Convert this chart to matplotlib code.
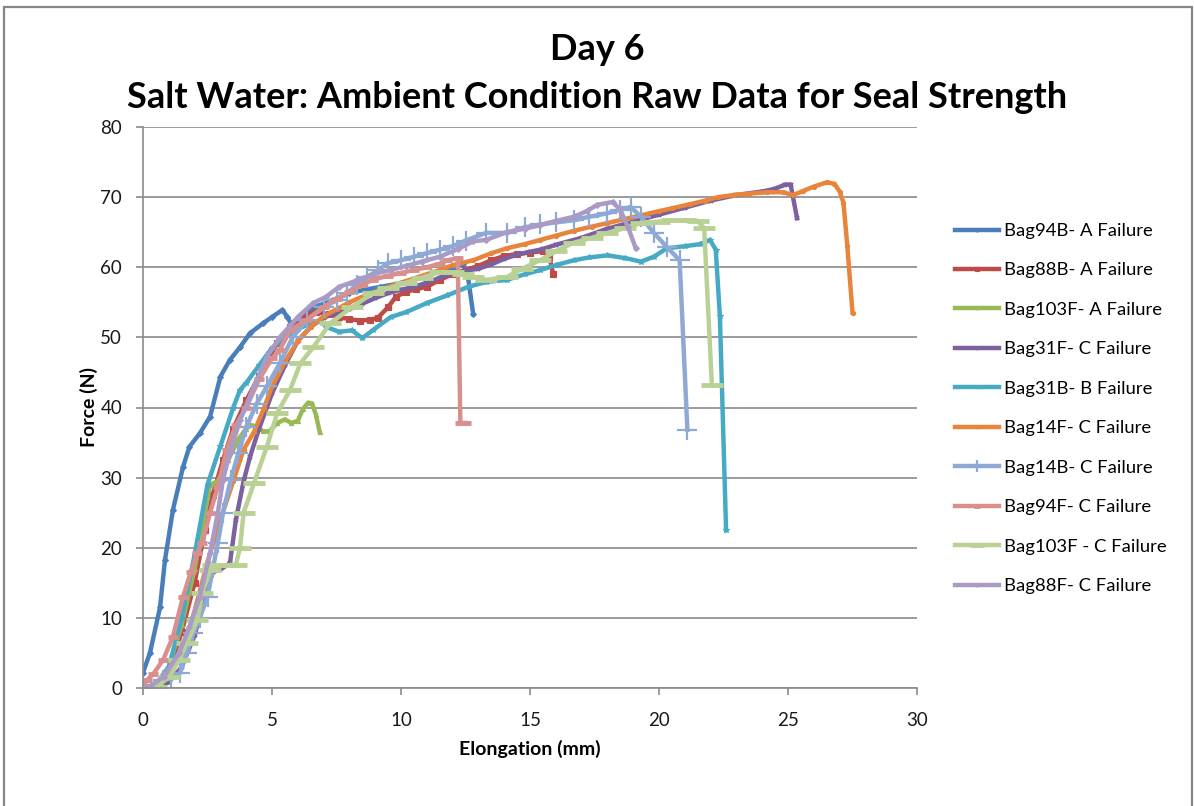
import matplotlib
matplotlib.use("Agg")
import matplotlib.pyplot as plt
from matplotlib.patches import Rectangle

plt.rcParams['font.family'] = ['Lato', 'DejaVu Sans']

# ---- series data: elongation (mm) and force (N) ----
bag94b_x = [0, 0.27, 0.66, 0.85, 1.16, 1.55, 1.8, 2.2, 2.6, 3.0, 3.37, 3.76, 4.15, 4.65, 5.0, 5.4,
            5.6, 5.8, 6.2, 6.8, 7.4, 8.0, 8.6, 9.2, 9.8, 10.4, 11.0, 11.5, 12.0, 12.4, 12.6, 12.8]
bag94b_y = [2.2, 5.0, 11.5, 18.2, 25.4, 31.5, 34.4, 36.3, 38.7, 44.4, 46.8, 48.6, 50.6, 52.0, 52.9, 53.9,
            52.9, 51.5, 53.3, 54.5, 55.4, 56.3, 56.8, 57.2, 57.6, 58.1, 58.8, 59.4, 59.9, 60.4, 58.5, 53.3]

bag88b_x = [0, 0.5, 1.0, 1.5, 2.0, 2.4, 2.7, 3.1, 3.5, 4.0, 4.5, 4.9, 5.2, 5.7, 6.2, 6.7, 7.2, 7.6,
            8.0, 8.4, 8.8, 9.1, 9.5, 9.8, 10.2, 10.6, 11.0, 11.5, 12.0, 12.5, 13.0, 13.5, 14.0, 14.5,
            15.0, 15.5, 15.75, 15.9]
bag88b_y = [0, 0.3, 2.5, 8.0, 15.0, 22.5, 27.5, 32.5, 37.0, 41.0, 44.5, 47.2, 49.2, 51.5, 53.2, 53.6,
            53.3, 52.9, 52.6, 52.4, 52.5, 52.8, 54.3, 55.8, 56.5, 56.9, 57.2, 58.2, 59.0, 59.6, 60.2,
            61.0, 61.6, 61.9, 62.1, 62.3, 61.5, 59.0]

bag103fa_x = [0, 0.5, 1.0, 1.5, 2.0, 2.4, 2.6, 2.9, 3.3, 3.7, 4.0, 4.2, 4.45, 4.65, 4.9, 5.2, 5.5,
              5.75, 6.0, 6.2, 6.4, 6.55, 6.7, 6.85]
bag103fa_y = [0, 0.5, 3.0, 9.0, 17.0, 25.0, 29.0, 29.5, 32.5, 35.5, 37.0, 37.5, 37.2, 36.6, 36.6,
              37.8, 38.3, 37.8, 38.1, 39.8, 40.7, 40.6, 39.0, 36.5]

bag31f_x = [0, 0.5, 1.0, 1.5, 2.0, 2.4, 2.7, 3.0, 3.37, 3.6, 3.9, 4.15, 4.5, 5.0, 5.5, 6.0, 6.5, 7.0,
            7.5, 8.0, 8.5, 9.0, 9.5, 10.0, 10.5, 11.0, 11.5, 12.0, 12.5, 13.0, 13.5, 14.0, 14.5, 15.0,
            15.5, 16.0, 17.0, 18.0, 19.0, 20.0, 21.0, 22.0, 23.0, 24.0, 24.5, 24.9, 25.1, 25.35]
bag31f_y = [0, 0.0, 0.8, 3.0, 7.5, 13.0, 16.5, 16.9, 17.8, 24.0, 29.5, 33.0, 37.0, 42.0, 46.0, 49.5,
            51.5, 52.8, 53.5, 54.0, 54.8, 55.6, 56.3, 56.8, 57.2, 57.8, 58.5, 59.2, 59.5, 59.8, 60.4,
            61.2, 61.8, 62.2, 62.6, 63.2, 64.2, 65.5, 66.5, 67.5, 68.5, 69.5, 70.3, 70.8, 71.2, 71.8,
            71.8, 67.0]

bag31b_x = [0, 0.5, 1.0, 1.5, 2.0, 2.5, 3.0, 3.5, 3.76, 4.0, 4.5, 5.0, 5.5, 6.0, 6.5, 6.86, 7.1, 7.6,
            8.1, 8.5, 8.9, 9.6, 10.2, 11.0, 11.8, 12.6, 13.3, 14.1, 14.8, 15.4, 16.0, 16.7, 17.3, 18.0,
            18.7, 19.3, 19.8, 20.3, 21.0, 21.6, 21.98, 22.2, 22.36, 22.6]
bag31b_y = [0, 0.5, 3.0, 10.0, 19.0, 29.0, 34.5, 40.0, 42.5, 43.5, 46.0, 48.5, 50.0, 51.2, 52.0,
            52.4, 51.5, 50.8, 51.0, 49.9, 51.0, 52.9, 53.6, 54.9, 56.0, 57.2, 57.9, 58.2, 59.0, 59.6,
            60.3, 61.0, 61.4, 61.7, 61.3, 60.8, 61.5, 62.7, 63.0, 63.3, 63.9, 62.5, 53.0, 22.5]

bag14f_x = [0, 0.5, 1.0, 1.5, 2.0, 2.5, 3.0, 3.5, 3.9, 4.3, 4.7, 5.0, 5.5, 6.0, 6.5, 7.0, 7.5, 8.0,
            8.5, 9.0, 9.5, 10.0, 10.5, 11.0, 11.5, 12.0, 12.8, 13.5, 14.1, 14.8, 15.4, 16.0, 16.7, 17.4,
            18.0, 18.7, 19.3, 20.0, 20.5, 21.2, 21.8, 22.3, 22.9, 23.5, 24.2, 24.8, 25.2, 25.6, 26.0,
            26.5, 26.8, 27.0, 27.15, 27.3, 27.5]
bag14f_y = [0, 0.3, 1.5, 5.0, 11.0, 18.0, 24.0, 29.5, 34.0, 36.5, 40.0, 43.0, 46.5, 49.5, 51.5, 53.0,
            54.0, 55.0, 55.8, 56.5, 57.2, 57.8, 58.4, 59.0, 59.6, 60.3, 61.0, 62.0, 62.7, 63.3, 63.9,
            64.5, 65.2, 65.8, 66.3, 66.9, 67.4, 68.0, 68.4, 69.0, 69.5, 70.0, 70.3, 70.5, 70.7, 70.7,
            70.3, 70.9, 71.5, 72.1, 71.9, 70.8, 69.2, 63.0, 53.5]

bag14b_x = [0, 0.3, 0.78, 1.1, 1.43, 1.7, 1.95, 2.2, 2.5, 2.9, 3.1, 3.4, 3.7, 4.0, 4.4, 4.8, 5.3, 5.8,
            6.35, 7.0, 7.5, 7.9, 8.3, 8.7, 9.1, 9.5, 10.0, 10.5, 11.0, 11.5, 12.0, 12.5, 13.3, 14.1,
            14.8, 15.4, 16.0, 16.7, 17.3, 18.0, 18.5, 18.9, 19.3, 19.8, 20.3, 20.8, 21.1]
bag14b_y = [0, 0.0, 1.1, 1.5, 2.1, 5.0, 7.8, 10.0, 13.0, 20.7, 25.0, 29.7, 33.5, 37.2, 40.5, 43.0,
            46.3, 50.0, 52.5, 54.3, 55.3, 56.3, 57.5, 58.6, 59.6, 60.6, 61.0, 61.5, 62.0, 62.5, 63.0,
            63.8, 64.9, 64.9, 65.7, 66.1, 66.4, 66.7, 67.2, 67.7, 68.2, 68.6, 67.2, 64.9, 62.9, 61.0,
            36.8]

bag94f_x = [0, 0.15, 0.4, 0.78, 1.16, 1.55, 1.85, 2.1, 2.3, 2.6, 2.9, 3.25, 3.6, 4.0, 4.5, 5.0, 5.3,
            5.7, 6.35, 7.0, 7.5, 8.0, 8.5, 8.9, 9.5, 10.0, 10.5, 11.0, 11.5, 11.8, 12.2, 12.3, 12.5]
bag94f_y = [0, 1.1, 2.0, 4.0, 7.3, 13.0, 16.5, 19.2, 20.7, 25.0, 28.7, 34.0, 37.5, 40.0, 44.0, 47.0,
            48.2, 51.0, 52.5, 54.3, 55.5, 56.5, 57.5, 58.2, 58.8, 59.2, 59.6, 60.0, 60.5, 61.0, 61.3,
            37.8, 37.8]

bag103fc_x = [0, 0.5, 1.0, 1.4, 1.7, 2.1, 2.3, 2.6, 2.7, 3.0, 3.3, 3.6, 3.76, 3.9, 4.3, 4.8, 5.2, 5.7,
              6.1, 6.6, 7.25, 8.1, 8.9, 9.5, 10.2, 10.8, 11.5, 12.0, 12.4, 12.8, 13.3, 14.1, 14.7,
              15.4, 16.0, 16.7, 17.4, 18.0, 18.7, 19.3, 20.0, 20.5, 21.0, 21.5, 21.75, 22.05]
bag103fc_y = [0, 0.2, 1.5, 4.0, 6.4, 9.7, 13.5, 16.8, 17.5, 17.5, 17.5, 17.6, 20.0, 25.0, 29.2, 34.4,
              39.2, 42.5, 46.3, 48.6, 52.0, 54.3, 56.3, 57.0, 57.8, 58.5, 59.3, 59.3, 59.0, 58.6, 58.2,
              58.6, 59.8, 61.0, 62.3, 63.5, 64.2, 64.9, 65.6, 66.3, 66.5, 66.7, 66.7, 66.6, 65.6, 43.2]

bag88f_x = [0, 0.3, 0.8, 1.4, 1.8, 2.2, 2.6, 2.9, 3.1, 3.4, 3.76, 4.3, 4.8, 5.3, 6.0, 6.6, 7.1, 7.6,
            8.2, 8.9, 9.6, 10.2, 10.8, 11.5, 12.2, 12.8, 13.3, 14.1, 14.8, 15.4, 16.0, 16.7, 17.2,
            17.6, 18.2, 18.5, 18.8, 19.1]
bag88f_y = [0, 0.3, 1.6, 5.0, 8.7, 13.0, 19.2, 25.0, 29.7, 34.0, 38.2, 43.0, 47.2, 50.0, 52.9, 54.9,
            55.8, 57.2, 58.0, 59.0, 59.6, 60.2, 60.8, 61.5, 62.6, 63.7, 63.9, 65.0, 65.5, 66.0, 66.6,
            67.2, 68.0, 68.9, 69.3, 68.2, 65.7, 62.7]

labels = ["Bag94B- A Failure", "Bag88B- A Failure", "Bag103F- A Failure", "Bag31F- C Failure",
          "Bag31B- B Failure", "Bag14F- C Failure", "Bag14B- C Failure", "Bag94F- C Failure",
          "Bag103F - C Failure", "Bag88F- C Failure"]
xs = [bag94b_x, bag88b_x, bag103fa_x, bag31f_x, bag31b_x, bag14f_x, bag14b_x, bag94f_x, bag103fc_x, bag88f_x]
ys = [bag94b_y, bag88b_y, bag103fa_y, bag31f_y, bag31b_y, bag14f_y, bag14b_y, bag94f_y, bag103fc_y, bag88f_y]

colors = ["#4A7EBB", "#BE4B48", "#98B954", "#7D60A0", "#46AAC5", "#E8843C",
          "#8EA9D4", "#D7908E", "#BAD196", "#AA9BC6"]
markers = ["D", "s", "^", "x", "*", "o", "+", "_", "_", "D"]
msizes = [3, 4, 3, 3, 4, 3, 14, 7, 16, 3]

fig = plt.figure(figsize=(11.94, 8.06), dpi=100)
fig.patch.set_facecolor("white")

# outer chart border
fig.patches.append(Rectangle((4 / 1194, -0.01), 1188 / 1194, 1 - 7 / 806 + 0.01,
                             transform=fig.transFigure, fill=False,
                             edgecolor="#868686", linewidth=1.6))

ax = fig.add_axes([143 / 1194, 1 - 688 / 806, (917 - 143) / 1194, (688 - 127) / 806])

for x, y, c, m, ms, lab in zip(xs, ys, colors, markers, msizes, labels):
    ax.plot(x, y, color=c, linewidth=3.2, marker=m, markersize=ms,
            markeredgewidth=1.6 if m in "+x" else (3.5 if m == "_" else 0.8),
            markerfacecolor=c, markeredgecolor=c, label=lab, solid_joinstyle="round")

ax.set_xlim(0, 30)
ax.set_ylim(0, 80)
ax.set_xticks(range(0, 31, 5))
ax.set_yticks(range(0, 81, 10))
ax.grid(axis="y", color="#8A8A8A", linewidth=1.2)
ax.set_axisbelow(True)
for s in ("top", "right"):
    ax.spines[s].set_visible(False)
for s in ("left", "bottom"):
    ax.spines[s].set_color("#8A8A8A")
    ax.spines[s].set_linewidth(1.2)
ax.tick_params(axis="both", direction="out", length=5, width=1.2, color="#8A8A8A",
               labelsize=13.5, labelcolor="#1a1a1a")
ax.tick_params(axis="y", pad=10)
ax.tick_params(axis="x", pad=12)

ax.set_xlabel("Elongation (mm)", fontsize=14, fontweight="bold", labelpad=8)
ax.set_ylabel("Force (N)", fontsize=14, fontweight="bold", labelpad=2)

fig.text(0.5, 1 - 49 / 806, "Day 6", ha="center", va="center", fontsize=26, fontweight="bold")
fig.text(0.5, 1 - 97 / 806, "Salt Water: Ambient Condition Raw Data for Seal Strength",
         ha="center", va="center", fontsize=26, fontweight="bold")

leg = ax.legend(loc="upper left", bbox_to_anchor=(955 / 1194, 1 - 223 / 806),
                bbox_transform=fig.transFigure, frameon=False, fontsize=13.3,
                borderpad=0, borderaxespad=0, handlelength=2.4, labelspacing=1.27,
                handletextpad=0.27, markerscale=0.6)

fig.savefig("out.png", dpi=100)
